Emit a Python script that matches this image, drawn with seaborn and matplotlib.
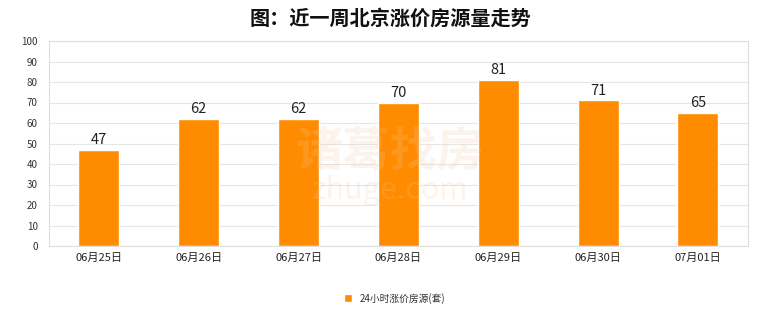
import matplotlib
matplotlib.use("Agg")
import matplotlib.pyplot as plt
import seaborn as sns
import pandas as pd

categories = ["06月25日", "06月26日", "06月27日", "06月28日", "06月29日", "06月30日", "07月01日"]
values = [47, 62, 62, 70, 81, 71, 65]
series_name = "24小时涨价房源(套)"
title = "图：近一周北京涨价房源量走势"
yticks = [0, 10, 20, 30, 40, 50, 60, 70, 80, 90, 100]

sns.set_theme(style="white")
plt.rcParams['font.family'] = ['Noto Sans CJK SC', 'DejaVu Sans']

df = pd.DataFrame({"date": categories, "value": values, "series": series_name})

fig = plt.figure(figsize=(7.8, 3.28), dpi=100)
fig.patch.set_facecolor("white")
ax = fig.add_axes([0.0628, 0.25, 0.896, 0.625])

sns.barplot(data=df, x="date", y="value", hue="series", palette=["#FF8C00"],
            width=0.41, ax=ax, saturation=1, legend=True)

for c in ax.containers:
    ax.bar_label(c, fmt="%d", padding=2, fontsize=10.5, color="#222222")

ax.set_ylim(0, 100)
ax.set_xlim(-0.5, len(categories) - 0.5)
ax.set_yticks(yticks)
ax.yaxis.grid(True, color="#e6e6e6", linewidth=0.8)
ax.set_axisbelow(True)
ax.tick_params(axis="y", labelsize=7, colors="#333333", length=0, pad=8)
ax.tick_params(axis="x", labelsize=8, colors="#222222", length=0, pad=5)
ax.set_xlabel("")
ax.set_ylabel("")
for s in ax.spines.values():
    s.set_color("#dddddd")
    s.set_linewidth(0.8)

# watermark
fig.text(0.5, 0.54, "诸葛找房", fontsize=34, color="#f3c9a0", alpha=0.2,
         ha="center", va="center", fontweight="bold")
fig.text(0.5, 0.42, "zhuge.com", fontsize=22, color="#f3c9a0", alpha=0.2,
         ha="center", va="center")

leg = ax.legend(loc="upper center", bbox_to_anchor=(0.495, -0.185), frameon=False,
                fontsize=7, handlelength=0.8, handleheight=0.8, handletextpad=0.8)
for t in leg.get_texts():
    t.set_color("#333333")

fig.text(0.5, 0.945, title, fontsize=14.5, fontweight="bold", ha="center", va="center",
         color="#111111")

fig.savefig("out.png", dpi=100)
